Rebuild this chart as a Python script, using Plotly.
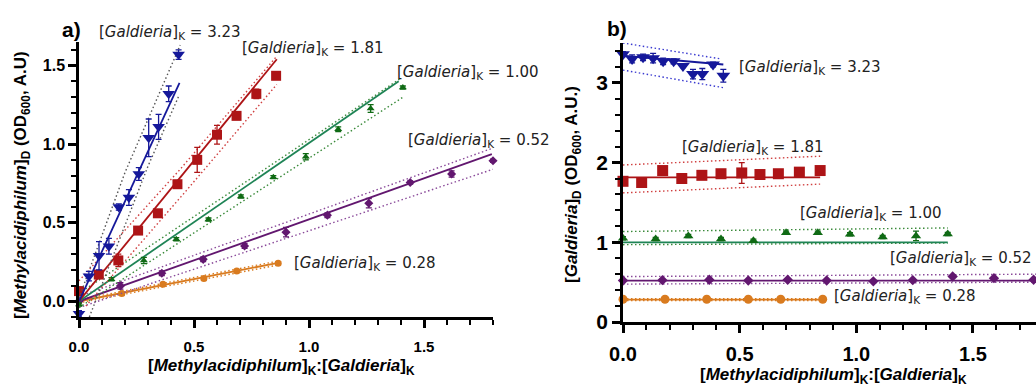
import plotly.graph_objects as go

# ---------------- Panel a data ----------------
a_blue_x = [0, 0.043, 0.087, 0.13, 0.173, 0.217, 0.26, 0.303, 0.346, 0.39, 0.433]
a_blue_y = [-0.08, 0.16, 0.29, 0.35, 0.60, 0.66, 0.81, 1.04, 1.11, 1.32, 1.57]
a_blue_e = [0.02, 0.03, 0.09, 0.05, 0.02, 0.05, 0.04, 0.12, 0.08, 0.05, 0.03]
a_red_x = [0, 0.086, 0.171, 0.257, 0.343, 0.428, 0.514, 0.6, 0.685, 0.771, 0.857]
a_red_y = [0.065, 0.17, 0.26, 0.45, 0.56, 0.745, 0.90, 1.06, 1.18, 1.32, 1.435]
a_red_e = [0.02, 0.02, 0.04, 0.02, 0.02, 0.02, 0.08, 0.06, 0.02, 0.03, 0.02]
a_green_x = [0, 0.141, 0.282, 0.423, 0.563, 0.704, 0.845, 0.986, 1.127, 1.268, 1.408]
a_green_y = [-0.02, 0.14, 0.26, 0.395, 0.52, 0.667, 0.79, 0.92, 1.095, 1.227, 1.36]
a_green_e = [0.01, 0.01, 0.02, 0.01, 0.01, 0.01, 0.01, 0.02, 0.015, 0.025, 0.01]
a_purple_x = [0, 0.18, 0.36, 0.54, 0.72, 0.9, 1.08, 1.26, 1.44, 1.62, 1.8]
a_purple_y = [0.0, 0.098, 0.178, 0.267, 0.352, 0.44, 0.548, 0.624, 0.756, 0.81, 0.894]
a_purple_e = [0.01, 0.02, 0.015, 0.015, 0.015, 0.03, 0.015, 0.03, 0.01, 0.02, 0.01]
a_orange_x = [0, 0.186, 0.365, 0.543, 0.686, 0.866]
a_orange_y = [0.0, 0.05, 0.108, 0.145, 0.193, 0.242]
a_orange_e = [0.01, 0.01, 0.01, 0.01, 0.01, 0.01]

# fitted lines and bands (panel a)
a_blue_fit_x, a_blue_fit_y = [0, 0.437], [0, 1.39]
a_blue_up_x, a_blue_up_y = [0, 0.2, 0.44], [0.02, 0.82, 1.63]
a_blue_lo_x, a_blue_lo_y = [0.045, 0.3, 0.435], [-0.10, 0.86, 1.31]
a_red_fit_x, a_red_fit_y = [0, 0.86], [0, 1.54]
a_red_up_x, a_red_up_y = [0, 0.44, 0.86], [0.13, 0.84, 1.56]
a_red_lo_x, a_red_lo_y = [0.03, 0.47, 0.86], [-0.03, 0.71, 1.38]
a_green_fit_x, a_green_fit_y = [0, 1.39], [0, 1.40]
a_green_up_x, a_green_up_y = [0, 1.40], [0.05, 1.42]
a_green_lo_x, a_green_lo_y = [0, 1.41], [-0.04, 1.30]
a_purple_fit_x, a_purple_fit_y = [0, 1.795], [0, 0.936]
a_purple_up_x, a_purple_up_y = [0, 1.8], [0.03, 0.975]
a_purple_lo_x, a_purple_lo_y = [0, 1.8], [-0.04, 0.84]
a_orange_fit_x, a_orange_fit_y = [0, 0.866], [0, 0.245]
a_orange_up_x, a_orange_up_y = [0, 0.87], [0.01, 0.257]
a_orange_lo_x, a_orange_lo_y = [0, 0.87], [-0.01, 0.232]

# ---------------- Panel b data ----------------
b_blue_x = [0, 0.039, 0.086, 0.129, 0.172, 0.217, 0.257, 0.3, 0.34, 0.386, 0.43]
b_blue_y = [3.36, 3.30, 3.32, 3.31, 3.27, 3.27, 3.21, 3.11, 3.11, 3.23, 3.09]
b_blue_e = [0.03, 0.05, 0.04, 0.06, 0.04, 0.03, 0.02, 0.06, 0.07, 0.03, 0.08]
b_red_x = [0, 0.08, 0.17, 0.252, 0.338, 0.42, 0.509, 0.587, 0.666, 0.756, 0.845]
b_red_y = [1.765, 1.75, 1.90, 1.80, 1.84, 1.86, 1.87, 1.85, 1.86, 1.88, 1.90]
b_red_e = [0.03, 0.03, 0.03, 0.03, 0.03, 0.03, 0.13, 0.03, 0.03, 0.03, 0.03]
b_green_x = [0, 0.14, 0.28, 0.42, 0.559, 0.699, 0.835, 0.973, 1.113, 1.256, 1.392]
b_green_y = [1.05, 1.04, 1.08, 1.04, 1.02, 1.12, 1.12, 1.10, 1.065, 1.08, 1.105]
b_green_e = [0.02, 0.02, 0.02, 0.02, 0.02, 0.02, 0.02, 0.02, 0.02, 0.06, 0.02]
b_purple_x = [0, 0.169, 0.37, 0.537, 0.706, 0.873, 1.073, 1.242, 1.413, 1.59, 1.76]
b_purple_y = [0.52, 0.525, 0.53, 0.52, 0.53, 0.52, 0.51, 0.525, 0.57, 0.55, 0.53]
b_purple_e = [0.01, 0.01, 0.01, 0.01, 0.01, 0.01, 0.01, 0.01, 0.01, 0.01, 0.01]
b_orange_x = [0, 0.18, 0.359, 0.537, 0.676, 0.856]
b_orange_y = [0.285, 0.285, 0.285, 0.285, 0.285, 0.285]
b_orange_e = [0.01, 0.01, 0.01, 0.01, 0.01, 0.01]

b_blue_fit_x, b_blue_fit_y = [0, 0.43], [3.34, 3.23]
b_blue_up_x, b_blue_up_y = [0, 0.42], [3.50, 3.30]
b_blue_lo_x, b_blue_lo_y = [0, 0.43], [3.16, 2.94]
b_red_fit_x, b_red_fit_y = [0, 0.845], [1.815, 1.815]
b_red_up_x, b_red_up_y = [0, 0.845], [1.97, 2.08]
b_red_lo_x, b_red_lo_y = [0, 0.845], [1.62, 1.73]
b_green_fit_x, b_green_fit_y = [0, 1.392], [1.0, 1.0]
b_green_up_x, b_green_up_y = [0, 1.392], [1.135, 1.18]
b_green_lo_x, b_green_lo_y = [0, 1.392], [0.97, 0.99]
b_purple_fit_x, b_purple_fit_y = [0, 1.77], [0.52, 0.52]
b_purple_up_x, b_purple_up_y = [0, 1.77], [0.57, 0.60]
b_purple_lo_x, b_purple_lo_y = [0, 1.77], [0.475, 0.50]
b_orange_fit_x, b_orange_fit_y = [0, 0.856], [0.28, 0.28]
b_orange_up_x, b_orange_up_y = [0, 0.856], [0.292, 0.292]
b_orange_lo_x, b_orange_lo_y = [0, 0.856], [0.27, 0.27]

series_labels = ["3.23", "1.81", "1.00", "0.52", "0.28"]

# ---------------- styling ----------------
W, H = 1036, 389
C_BLUE = "#15189a"
C_RED = "#ad1416"
C_GREEN_M = "#0f6a14"
C_GREEN_L = "#1f8456"
C_PURPLE = "#62176f"
C_ORANGE = "#d97b1f"
BAND_BLUE_A = "#555555"
DOT = "1.5px,2.5px"

fig = go.Figure()


def add_series(x, y, e, sym, size, color, fx, fy, ux, uy, lx, ly,
               line_color, band_color, xa, ya):
    for bx, by in ((ux, uy), (lx, ly)):
        fig.add_trace(go.Scatter(x=bx, y=by, mode="lines", xaxis=xa, yaxis=ya,
                                 line=dict(color=band_color, width=1.4, dash=DOT),
                                 showlegend=False, hoverinfo="skip"))
    fig.add_trace(go.Scatter(x=fx, y=fy, mode="lines", xaxis=xa, yaxis=ya,
                             line=dict(color=line_color, width=1.8),
                             showlegend=False, hoverinfo="skip"))
    fig.add_trace(go.Scatter(x=x, y=y, mode="markers", xaxis=xa, yaxis=ya,
                             marker=dict(symbol=sym, size=size, color=color),
                             error_y=dict(type="data", array=e, color=color,
                                          thickness=1.3, width=3),
                             cliponaxis=False, showlegend=False))


# panel a
add_series(a_orange_x, a_orange_y, a_orange_e, "circle", 7, C_ORANGE,
           a_orange_fit_x, a_orange_fit_y, a_orange_up_x, a_orange_up_y,
           a_orange_lo_x, a_orange_lo_y, C_ORANGE, C_ORANGE, "x", "y")
add_series(a_purple_x, a_purple_y, a_purple_e, "diamond", 7, C_PURPLE,
           a_purple_fit_x, a_purple_fit_y, a_purple_up_x, a_purple_up_y,
           a_purple_lo_x, a_purple_lo_y, C_PURPLE, "#8a4a9a", "x", "y")
add_series(a_green_x, a_green_y, a_green_e, "triangle-up", 7, C_GREEN_M,
           a_green_fit_x, a_green_fit_y, a_green_up_x, a_green_up_y,
           a_green_lo_x, a_green_lo_y, C_GREEN_L, "#3a8a3a", "x", "y")
add_series(a_red_x, a_red_y, a_red_e, "square", 10, C_RED,
           a_red_fit_x, a_red_fit_y, a_red_up_x, a_red_up_y,
           a_red_lo_x, a_red_lo_y, C_RED, "#d04040", "x", "y")
add_series(a_blue_x, a_blue_y, a_blue_e, "triangle-down", 11, C_BLUE,
           a_blue_fit_x, a_blue_fit_y, a_blue_up_x, a_blue_up_y,
           a_blue_lo_x, a_blue_lo_y, C_BLUE, BAND_BLUE_A, "x", "y")

# panel b
add_series(b_orange_x, b_orange_y, b_orange_e, "circle", 9, C_ORANGE,
           b_orange_fit_x, b_orange_fit_y, b_orange_up_x, b_orange_up_y,
           b_orange_lo_x, b_orange_lo_y, C_ORANGE, C_ORANGE, "x2", "y2")
add_series(b_purple_x, b_purple_y, b_purple_e, "diamond", 8, C_PURPLE,
           b_purple_fit_x, b_purple_fit_y, b_purple_up_x, b_purple_up_y,
           b_purple_lo_x, b_purple_lo_y, C_PURPLE, "#8a4a9a", "x2", "y2")
add_series(b_green_x, b_green_y, b_green_e, "triangle-up", 9, C_GREEN_M,
           b_green_fit_x, b_green_fit_y, b_green_up_x, b_green_up_y,
           b_green_lo_x, b_green_lo_y, C_GREEN_L, "#3a8a3a", "x2", "y2")
add_series(b_red_x, b_red_y, b_red_e, "square", 11, C_RED,
           b_red_fit_x, b_red_fit_y, b_red_up_x, b_red_up_y,
           b_red_lo_x, b_red_lo_y, C_RED, "#d04040", "x2", "y2")
add_series(b_blue_x, b_blue_y, b_blue_e, "triangle-down", 12, C_BLUE,
           b_blue_fit_x, b_blue_fit_y, b_blue_up_x, b_blue_up_y,
           b_blue_lo_x, b_blue_lo_y, C_BLUE, "#3a3ad0", "x2", "y2")

FONT = "Liberation Sans, Arial, sans-serif"


def axis(domain, rng, dtick, minor_dtick, anchor, fsize, fmt):
    return dict(domain=domain, range=rng, dtick=dtick, tick0=0, anchor=anchor,
                automargin=False,
                showline=True, linecolor="black", linewidth=2.5,
                ticks="outside", ticklen=8, tickwidth=2.5, tickcolor="black",
                showgrid=False, zeroline=False, tickformat=fmt,
                tickfont=dict(family=FONT, size=fsize, color="black", weight="bold"),
                minor=dict(dtick=minor_dtick, tick0=0, ticks="outside", ticklen=5,
                           tickwidth=2, tickcolor="black", showgrid=False))


fig.update_layout(
    width=W, height=H, margin=dict(l=0, r=0, t=0, b=0, autoexpand=False),
    paper_bgcolor="white", plot_bgcolor="white", showlegend=False,
    xaxis=axis([79 / W, 493 / W], [0, 1.8], 0.5, 0.1, "y", 15, ".1f"),
    yaxis=axis([1 - 317 / H, 1 - 42 / H], [-0.1, 1.65], 0.5, 0.1, "x", 16, ".1f"),
    xaxis2=axis([623 / W, 1.0], [0, (W - 623) / 233.3], 0.5, 0.1, "y2", 20, ".1f"),
    yaxis2=axis([1 - 322 / H, 1 - 43 / H], [0, 3.5], 1, 0.2, "x2", 21, "d"),
)
fig.layout.xaxis.ticklabelstandoff = 6
fig.layout.xaxis2.ticklabelstandoff = 4

ann = []
lab_font = dict(family="DejaVu Sans, sans-serif", size=15, color="#222222")
a_lab_pos = [(97, 32), (240, 48), (395, 73), (406, 140), (292, 263)]
b_lab_pos = [(737, 67), (680, 147), (798, 213), (888, 258), (832, 296)]
for lab, (px, py) in zip(series_labels, a_lab_pos):
    ann.append(dict(x=px / W, y=1 - py / H, xref="paper", yref="paper",
                    xanchor="left", yanchor="middle", showarrow=False,
                    text="[<i>Galdieria</i>]<sub>K</sub> = " + lab, font=lab_font))
for lab, (px, py) in zip(series_labels, b_lab_pos):
    ann.append(dict(x=px / W, y=1 - py / H, xref="paper", yref="paper",
                    xanchor="left", yanchor="middle", showarrow=False,
                    text="[<i>Galdieria</i>]<sub>K</sub> = " + lab, font=lab_font))

title_font = dict(family=FONT, size=17, color="black", weight="bold")
ann += [
    dict(x=71 / W, y=1 - 30 / H, xref="paper", yref="paper", xanchor="center",
         yanchor="middle", showarrow=False, text="a)",
         font=dict(family=FONT, size=21, color="black", weight="bold")),
    dict(x=617 / W, y=1 - 28 / H, xref="paper", yref="paper", xanchor="center",
         yanchor="middle", showarrow=False, text="b)",
         font=dict(family=FONT, size=21, color="black", weight="bold")),
    dict(x=22 / W, y=1 - 185 / H, xref="paper", yref="paper", xanchor="center",
         yanchor="middle", showarrow=False, textangle=-90, font=title_font,
         text="[<i>Methylacidiphilum</i>]<sub>D</sub> (OD<sub>600</sub>, A.U)"),
    dict(x=281 / W, y=1 - 367 / H, xref="paper", yref="paper", xanchor="center",
         yanchor="middle", showarrow=False, font=title_font,
         text="[<i>Methylacidiphilum</i>]<sub>K</sub>:[<i>Galdieria</i>]<sub>K</sub>"),
    dict(x=573 / W, y=1 - 185 / H, xref="paper", yref="paper", xanchor="center",
         yanchor="middle", showarrow=False, textangle=-90, font=title_font,
         text="[<i>Galdieria</i>]<sub>D</sub> (OD<sub>600</sub>, A.U.)"),
    dict(x=833 / W, y=1 - 376 / H, xref="paper", yref="paper", xanchor="center",
         yanchor="middle", showarrow=False, font=title_font,
         text="[<i>Methylacidiphilum</i>]<sub>K</sub>:[<i>Galdieria</i>]<sub>K</sub>"),
]
fig.update_layout(annotations=ann)

fig.write_html("out.html", config={"displayModeBar": False},
               post_script="document.body.style.margin='0';"
                           "document.body.style.overflow='hidden';")
